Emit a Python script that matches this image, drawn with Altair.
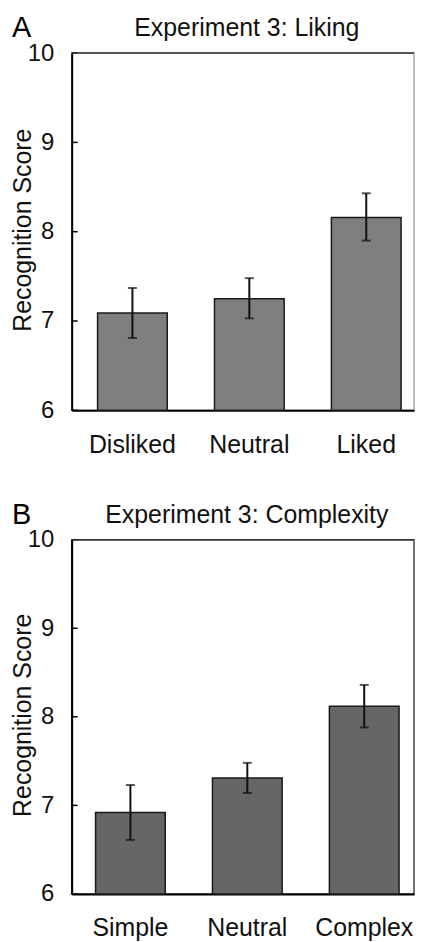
import altair as alt
import pandas as pd

FONT = "Liberation Sans"

# Panel A: Experiment 3, Liking
a_categories = ["Disliked", "Neutral", "Liked"]
a_means = [7.09, 7.25, 8.16]
a_lower = [6.81, 7.03, 7.90]
a_upper = [7.37, 7.48, 8.43]

# Panel B: Experiment 3, Complexity
b_categories = ["Simple", "Neutral", "Complex"]
b_means = [6.92, 7.31, 8.12]
b_lower = [6.61, 7.14, 7.88]
b_upper = [7.23, 7.48, 8.36]

y_ticks = [6, 7, 8, 9, 10]
y_min, y_max = 6, 10


def panel(letter, title, cats, means, lo, hi, fill, w, h, align, right_stroke):
    df = pd.DataFrame({"cat": cats, "mean": means, "lo": lo, "hi": hi})
    yscale = alt.Scale(domain=[y_min, y_max], zero=False, nice=False)
    xscale = alt.Scale(paddingInner=0.404, paddingOuter=0.166, align=align)
    xaxis = alt.Axis(title=None, labelAngle=0, labelFontSize=25, labelPadding=22,
                     ticks=False, tickSize=0, domainColor="black", domainWidth=2,
                     labelColor="#111", labelFont=FONT)
    yaxis = alt.Axis(values=y_ticks, format="d", title="Recognition Score",
                     titleFontSize=25, titleFontWeight="normal", titleColor="#111",
                     titleFont=FONT, titleX=-41, titleY=h / 2 - 2, titleBaseline="alphabetic",
                     titleAngle=270, titleAlign="center",
                     labelFontSize=24, labelPadding=18, labelFont=FONT, labelColor="#111",
                     ticks=False, tickSize=0, domainColor="black", domainWidth=2, grid=False)
    xenc = alt.X("cat:N", sort=cats, scale=xscale, axis=xaxis)
    base = alt.Chart(df)
    bars = base.mark_bar(fill=fill, stroke="#1a1a1a", strokeWidth=1.5).encode(
        x=xenc,
        y=alt.Y("mean:Q", scale=yscale, axis=yaxis),
        y2=alt.datum(y_min),
    )
    err = base.mark_rule(color="#111", strokeWidth=2).encode(
        x=xenc, y=alt.Y("lo:Q", scale=yscale, axis=yaxis), y2="hi:Q")
    cap_lo = base.mark_tick(color="#111", thickness=2, size=9).encode(
        x=xenc, y=alt.Y("lo:Q", scale=yscale, axis=yaxis))
    cap_hi = base.mark_tick(color="#111", thickness=2, size=9).encode(
        x=xenc, y=alt.Y("hi:Q", scale=yscale, axis=yaxis))
    inticks = alt.Chart(pd.DataFrame({"t": y_ticks})).mark_rule(
        color="black", strokeWidth=1.5).encode(
        y=alt.Y("t:Q", scale=yscale, axis=yaxis), x=alt.value(0), x2=alt.value(6))
    topline = alt.Chart(pd.DataFrame({"t": [y_max]})).mark_rule(
        color="#333", strokeWidth=1.5).encode(
        y=alt.Y("t:Q", scale=yscale, axis=yaxis), x=alt.value(0), x2=alt.value(w))
    lab = alt.Chart(pd.DataFrame({"l": [letter]})).mark_text(
        fontSize=29, font=FONT, align="left", baseline="alphabetic", color="black").encode(
        text="l:N", x=alt.value(-60), y=alt.value(-16))
    ttl = alt.Chart(pd.DataFrame({"t": [title]})).mark_text(
        fontSize=25, font=FONT, align="center", baseline="alphabetic", color="#111").encode(
        text="t:N", x=alt.value(w / 2 + 4), y=alt.value(-17))
    return alt.layer(bars, err, cap_lo, cap_hi, inticks, topline, lab, ttl).properties(
        width=w, height=h,
        view=alt.ViewBackground(stroke=right_stroke, strokeWidth=1.5),
    )


pa = panel("A", "Experiment 3: Liking", a_categories, a_means, a_lower, a_upper,
           "#7f7f7f", 344, 359, 0.667, "#aaaaaa")
pb = panel("B", "Experiment 3: Complexity", b_categories, b_means, b_lower, b_upper,
           "#666666", 344, 356, 0.615, "#444444")

chart = alt.vconcat(pa, pb, spacing=42).properties(
    padding={"left": 2, "top": 3, "right": 0, "bottom": 0}
).configure(background="white")

chart.save("out.html", embed_options={"renderer": "svg", "actions": False})
